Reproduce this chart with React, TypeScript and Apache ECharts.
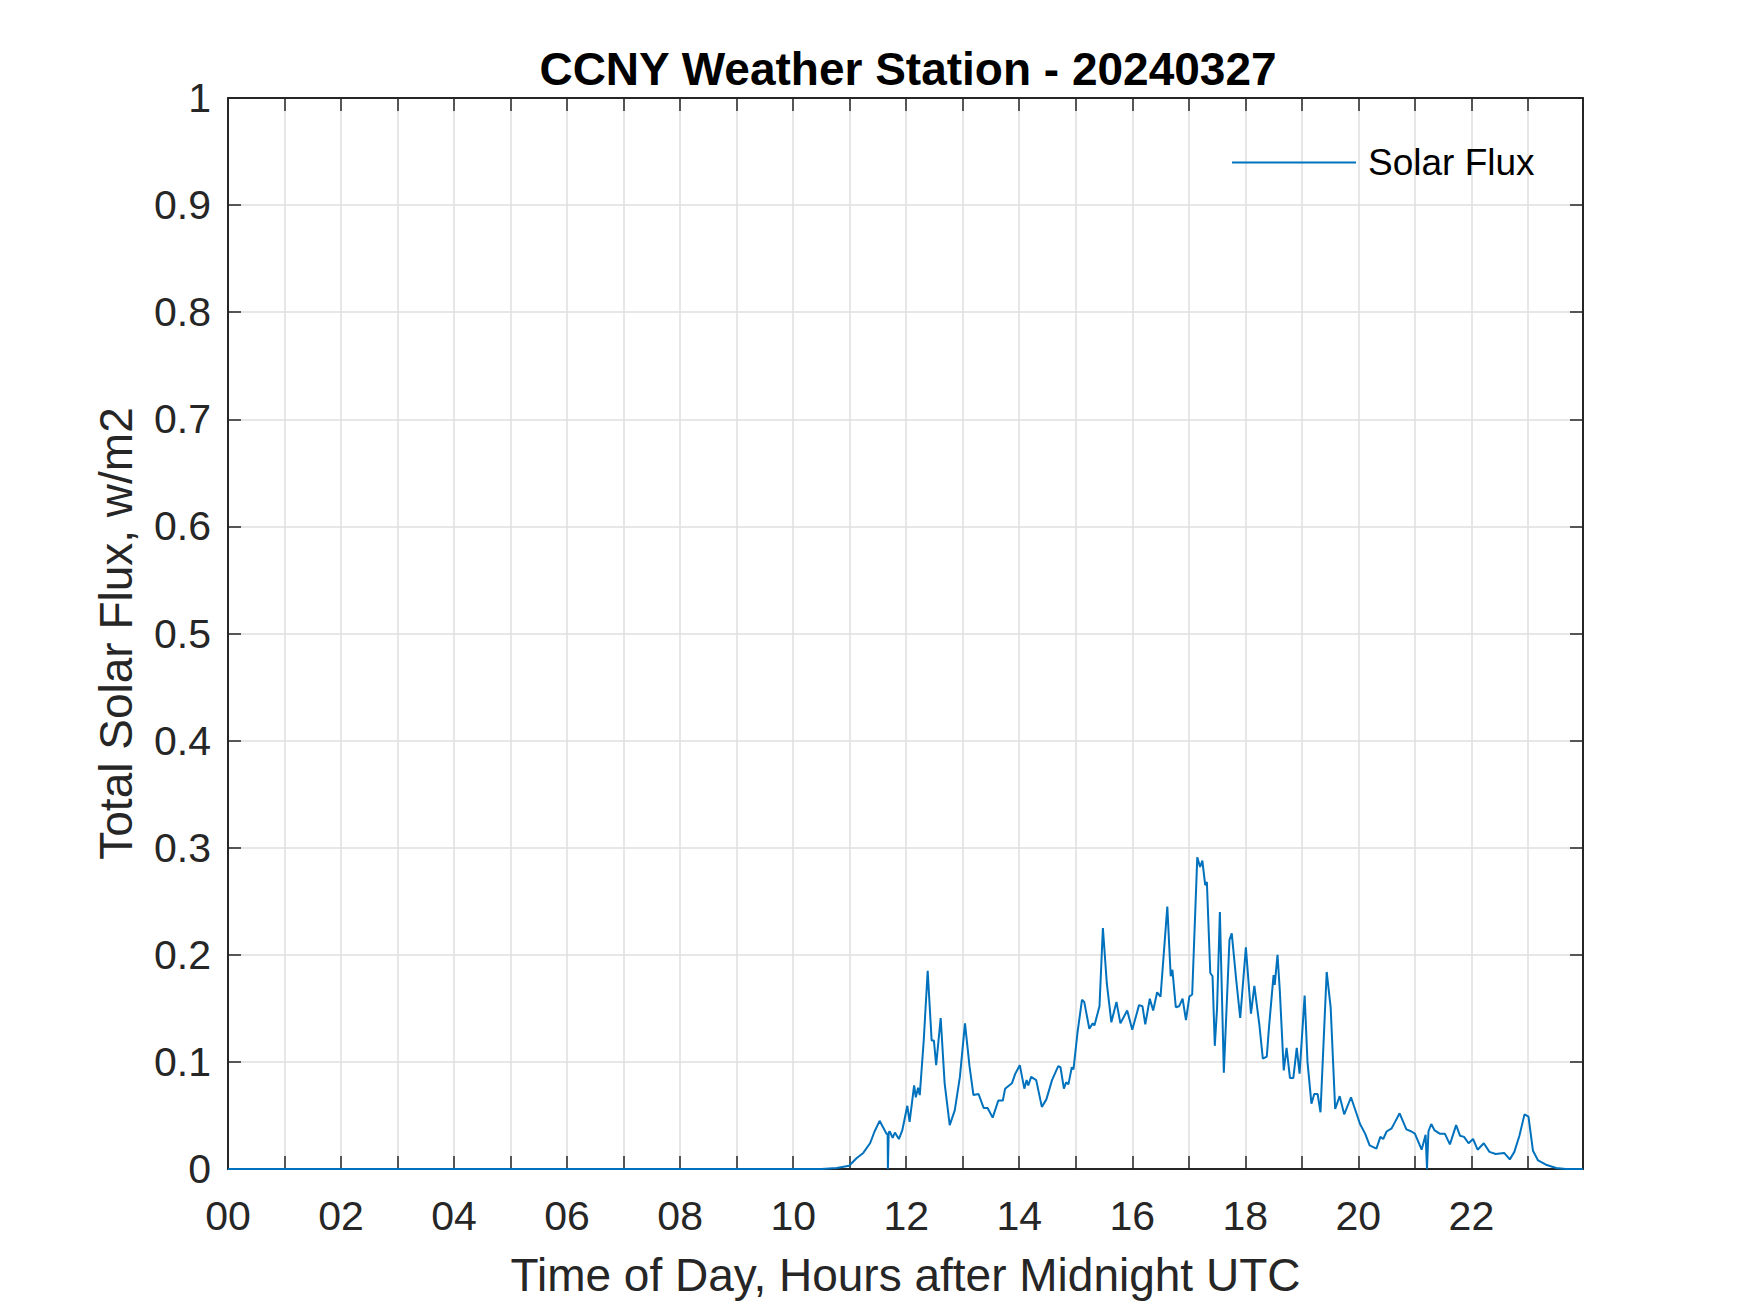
import React, { useEffect, useRef } from "react";
import * as echarts from "echarts";

const hours: number[] = [
  0, 10.5, 10.77, 10.99, 11.12, 11.24, 11.36, 11.44, 11.53, 11.59, 11.65, 11.672, 11.676, 11.684, 11.69,
  11.71, 11.76, 11.8, 11.87, 11.93, 12.02, 12.06, 12.14, 12.17, 12.21, 12.24, 12.31, 12.38, 12.45, 12.49,
  12.53, 12.61, 12.68, 12.77, 12.86, 12.95, 13.04, 13.12, 13.19, 13.28, 13.37, 13.44, 13.53, 13.63, 13.71,
  13.75, 13.87, 13.93, 14.01, 14.09, 14.13, 14.16, 14.21, 14.3, 14.4, 14.48, 14.58, 14.69, 14.73, 14.79,
  14.83, 14.87, 14.93, 14.96, 15.03, 15.11, 15.15, 15.24, 15.3, 15.33, 15.42, 15.48, 15.55, 15.63, 15.72,
  15.79, 15.91, 16.0, 16.12, 16.18, 16.23, 16.31, 16.37, 16.44, 16.5, 16.62, 16.68, 16.71, 16.77, 16.83,
  16.89, 16.95, 17.01, 17.06, 17.15, 17.2, 17.24, 17.29, 17.32, 17.38, 17.42, 17.46, 17.5, 17.55, 17.62,
  17.72, 17.76, 17.84, 17.91, 18.01, 18.1, 18.16, 18.25, 18.31, 18.38, 18.42, 18.5, 18.52, 18.57, 18.61,
  18.68, 18.73, 18.79, 18.85, 18.91, 18.96, 19.05, 19.1, 19.17, 19.22, 19.28, 19.33, 19.44, 19.51, 19.59,
  19.67, 19.75, 19.87, 20.03, 20.12, 20.2, 20.32, 20.39, 20.44, 20.5, 20.59, 20.65, 20.73, 20.85, 20.94,
  21.0, 21.12, 21.19, 21.215, 21.225, 21.24, 21.29, 21.35, 21.44, 21.53, 21.62, 21.73, 21.8, 21.87, 21.95,
  22.03, 22.11, 22.22, 22.32, 22.43, 22.58, 22.68, 22.76, 22.85, 22.94, 23.01, 23.09, 23.18, 23.32, 23.5,
  23.67, 23.975,
];

const flux: number[] = [
  0, 0, 0.001, 0.003, 0.01, 0.015, 0.024, 0.035, 0.045, 0.039, 0.033, 0.032, 0, 0, 0.034,
  0.035, 0.029, 0.034, 0.028, 0.036, 0.059, 0.044, 0.078, 0.067, 0.076, 0.069, 0.12, 0.185, 0.12, 0.12,
  0.097, 0.141, 0.08, 0.041, 0.055, 0.086, 0.136, 0.096, 0.069, 0.07, 0.057, 0.057, 0.048, 0.064, 0.064,
  0.075, 0.08, 0.089, 0.097, 0.075, 0.083, 0.078, 0.086, 0.083, 0.058, 0.065, 0.083, 0.096, 0.095, 0.075,
  0.081, 0.079, 0.095, 0.093, 0.127, 0.158, 0.156, 0.131, 0.136, 0.134, 0.152, 0.225, 0.173, 0.137, 0.156,
  0.136, 0.148, 0.13, 0.153, 0.152, 0.135, 0.159, 0.148, 0.165, 0.161, 0.245, 0.18, 0.186, 0.151, 0.152,
  0.159, 0.139, 0.161, 0.163, 0.291, 0.282, 0.288, 0.265, 0.268, 0.183, 0.18, 0.115, 0.15, 0.24, 0.09,
  0.214, 0.22, 0.176, 0.141, 0.207, 0.145, 0.171, 0.134, 0.103, 0.105, 0.133, 0.181, 0.172, 0.2, 0.167,
  0.092, 0.113, 0.085, 0.085, 0.113, 0.089, 0.162, 0.1, 0.061, 0.07, 0.07, 0.053, 0.184, 0.151, 0.056,
  0.068, 0.051, 0.067, 0.042, 0.033, 0.022, 0.019, 0.03, 0.028, 0.035, 0.038, 0.044, 0.052, 0.037, 0.035,
  0.033, 0.018, 0.032, 0, 0, 0.035, 0.042, 0.036, 0.033, 0.033, 0.023, 0.041, 0.031, 0.03, 0.024,
  0.028, 0.018, 0.024, 0.016, 0.014, 0.015, 0.009, 0.016, 0.031, 0.051, 0.049, 0.017, 0.008, 0.004, 0.001,
  0, 0,
];

const titleText = "CCNY Weather Station - 20240327";
const xName = "Time of Day, Hours after Midnight UTC";
const yName = "Total Solar Flux, w/m2";
const seriesName = "Solar Flux";

const FONT = "'Liberation Sans', Arial, Helvetica, sans-serif";
const AXIS_COLOR = "#262626";
const GRID_COLOR = "#dfdfdf";

export default function App() {
  const ref = useRef<HTMLDivElement>(null);
  useEffect(() => {
    if (!ref.current) return;
    const chart = echarts.init(ref.current, undefined, { renderer: "svg" });
    const data = hours.map((h, i) => [h, flux[i]]);
    const tickCommon = {
      show: true,
      inside: true,
      length: 13,
      lineStyle: { color: AXIS_COLOR, width: 1.5 },
    };
    chart.setOption({
      animation: false,
      backgroundColor: "#ffffff",
      textStyle: { fontFamily: FONT },
      title: {
        text: titleText,
        left: 908,
        top: 46,
        textAlign: "center",
        padding: 0,
        textStyle: { fontFamily: FONT, fontSize: 46, fontWeight: "bold", color: "#000000" },
      },
      legend: {
        data: [seriesName],
        left: 1227,
        top: 139,
        icon: "rect",
        itemWidth: 124,
        itemHeight: 2,
        textStyle: { fontFamily: FONT, fontSize: 37, color: "#000000", padding: [0, 0, 0, 7] },
      },
      grid: { left: 228, right: 167, top: 98, bottom: 144, containLabel: false },
      xAxis: [
        {
          type: "value",
          position: "bottom",
          min: 0,
          max: 23.975,
          interval: 1,
          name: xName,
          nameLocation: "middle",
          nameGap: 83,
          nameTextStyle: { fontFamily: FONT, fontSize: 46, color: AXIS_COLOR },
          axisLine: { show: true, onZero: false, lineStyle: { color: AXIS_COLOR, width: 2 } },
          axisTick: tickCommon,
          axisLabel: {
            margin: 26,
            fontFamily: FONT,
            fontSize: 41,
            color: AXIS_COLOR,
            showMaxLabel: false,
            formatter: (v: number) => {
              const r = Math.round(v);
              if (Math.abs(v - r) > 1e-6 || r % 2 !== 0) return "";
              return r < 10 ? "0" + r : String(r);
            },
          },
          splitLine: { show: true, lineStyle: { color: GRID_COLOR, width: 1.5 } },
        },
        {
          type: "value",
          position: "top",
          min: 0,
          max: 23.975,
          interval: 1,
          axisLine: { show: true, onZero: false, lineStyle: { color: AXIS_COLOR, width: 2 } },
          axisTick: tickCommon,
          axisLabel: { show: false },
          splitLine: { show: false },
        },
      ],
      yAxis: [
        {
          type: "value",
          position: "left",
          min: 0,
          max: 1,
          interval: 0.1,
          name: yName,
          nameLocation: "middle",
          nameGap: 89,
          nameTextStyle: { fontFamily: FONT, fontSize: 46, color: AXIS_COLOR },
          axisLine: { show: true, onZero: false, lineStyle: { color: AXIS_COLOR, width: 2 } },
          axisTick: tickCommon,
          axisLabel: {
            margin: 17,
            fontFamily: FONT,
            fontSize: 41,
            color: AXIS_COLOR,
            formatter: (v: number) => String(Math.round(v * 10) / 10),
          },
          splitLine: { show: true, lineStyle: { color: GRID_COLOR, width: 1.5 } },
        },
        {
          type: "value",
          position: "right",
          min: 0,
          max: 1,
          interval: 0.1,
          axisLine: { show: true, onZero: false, lineStyle: { color: AXIS_COLOR, width: 2 } },
          axisTick: tickCommon,
          axisLabel: { show: false },
          splitLine: { show: false },
        },
      ],
      series: [
        {
          name: seriesName,
          type: "line",
          xAxisIndex: 0,
          yAxisIndex: 0,
          data,
          showSymbol: false,
          symbol: "none",
          smooth: false,
          lineStyle: { color: "#0072BD", width: 2 },
          itemStyle: { color: "#0072BD" },
          z: 5,
        },
      ],
    });
    return () => chart.dispose();
  }, []);
  return (
    <div
      ref={ref}
      style={{ position: "fixed", left: 0, top: 0, width: 1750, height: 1313, background: "#fff" }}
    />
  );
}
